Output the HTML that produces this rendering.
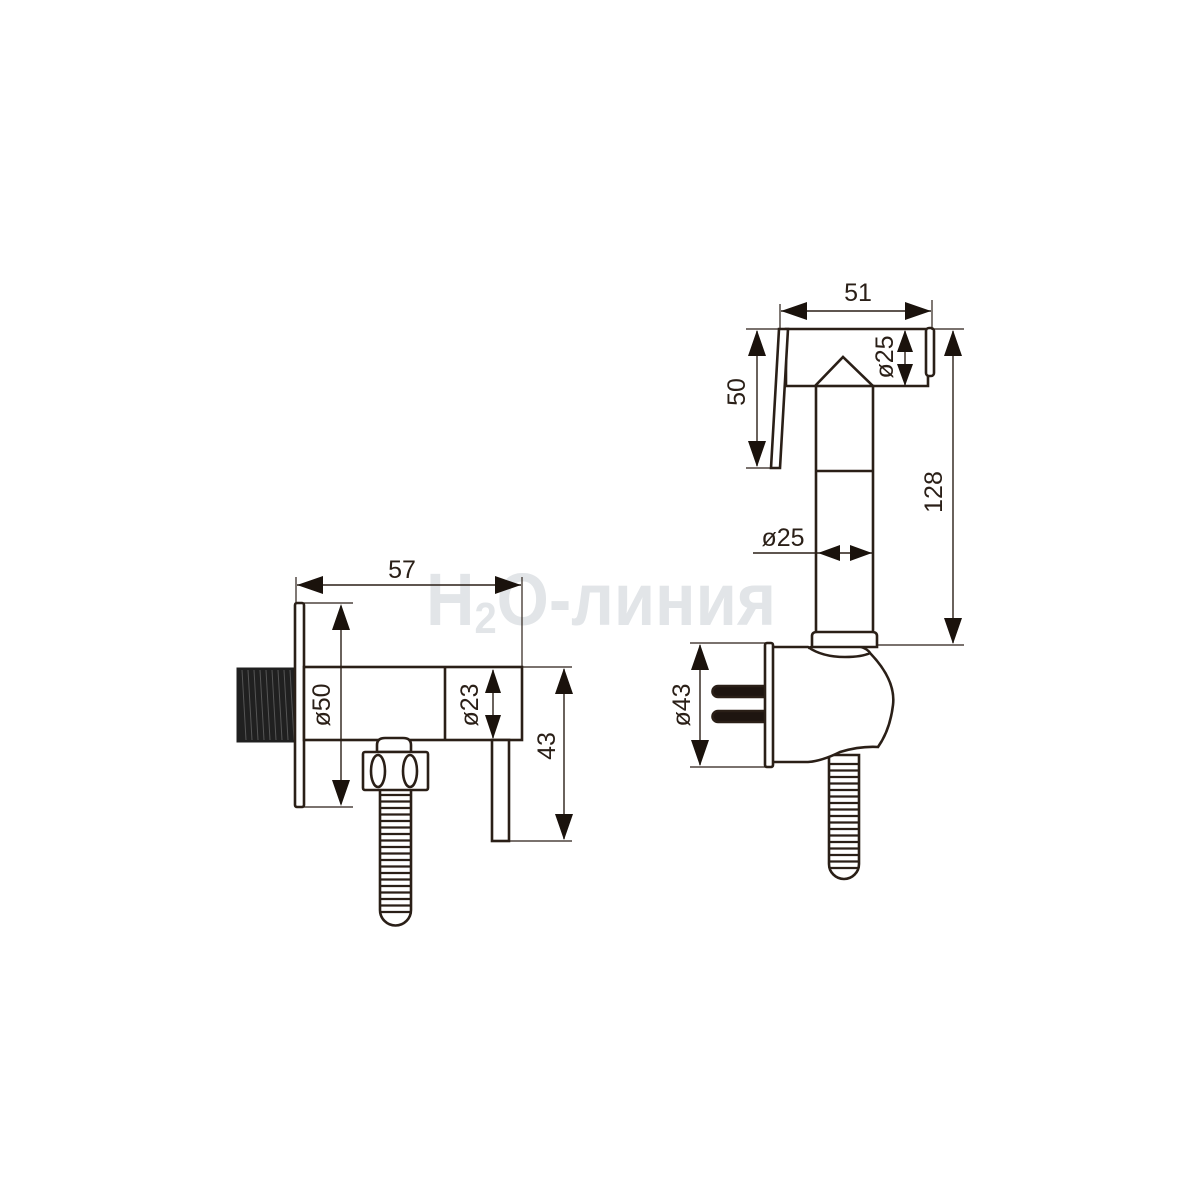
<!DOCTYPE html>
<html><head><meta charset="utf-8"><style>
html,body{margin:0;padding:0;background:#fff}
svg{display:block}
text{font-family:"Liberation Sans",sans-serif;fill:#2a1f17}
</style></head><body>
<svg width="1200" height="1200" viewBox="0 0 1200 1200" xmlns="http://www.w3.org/2000/svg">
<!-- watermark -->
<text x="426" y="625" font-size="74" font-weight="bold" style="fill:#e2e5e8" textLength="350" lengthAdjust="spacingAndGlyphs">H<tspan font-size="44" dy="8">2</tspan><tspan dy="-8">O-линия</tspan></text>

<g stroke="#2a1f17" fill="#fff" stroke-width="2.6">
<!-- thread -->
<rect x="237" y="668" width="59" height="74" fill="#202020" stroke="#202020" stroke-width="1"/>
<g stroke="#555" stroke-width="1">
<path d="M242,670 l4,70 M248,670 l4,70 M254,670 l4,70 M260,670 l4,70 M266,670 l4,70 M272,670 l4,70 M278,670 l4,70 M284,670 l4,70 M290,670 l4,70"/>
</g>
<rect x="295" y="603" width="9" height="204" rx="2"/>
<rect x="304" y="667" width="218" height="73"/>
<line x1="445" y1="667" x2="445" y2="740"/>
<rect x="492" y="740" width="17" height="101"/>
<path d="M380,789 V910 a15.5,15.5 0 0 0 31,0 V789 z"/>
<g stroke-width="2.2">
<path d="M380,795 h31 M380,801.5 h31 M380,808 h31 M380,814.5 h31 M380,821 h31 M380,827.5 h31 M380,834 h31 M380,840.5 h31 M380,847 h31 M380,853.5 h31 M380,860 h31 M380,866.5 h31 M380,873 h31 M380,879.5 h31 M380,886 h31 M380,892.5 h31 M380,899 h31 M380,905.5 h31 M381,912 h29"/>
</g>
<path d="M377,752 V745 q0,-7 8,-7 h18 q8,0 8,7 V752 z"/>
<rect x="363" y="752" width="65" height="38" rx="2"/>
<ellipse cx="378" cy="771" rx="7" ry="16"/>
<ellipse cx="410" cy="771" rx="7" ry="16"/>

<!-- RIGHT shapes -->
<path d="M786,329 H928 V386 H873 L843,357 L815,386 H786 z"/>
<rect x="926" y="328" width="8" height="48" rx="3"/>
<path d="M779,329 L788,329 L780,468 L771,468 z"/>
<rect x="816" y="386" width="57" height="248"/>
<line x1="816" y1="471" x2="873" y2="471"/>
<path d="M766,686 H718 a5.5,5.5 0 0 0 0,11 H766 z" fill="#1e1510"/>
<path d="M766,711 H718 a5.5,5.5 0 0 0 0,11 H766 z" fill="#1e1510"/>
<path d="M829,755 V864 a15,15 0 0 0 30,0 V755 z"/>
<g stroke-width="2.2">
<path d="M829,764 h30 M829,770.5 h30 M829,777 h30 M829,783.5 h30 M829,790 h30 M829,796.5 h30 M829,803 h30 M829,809.5 h30 M829,816 h30 M829,822.5 h30 M829,829 h30 M829,835.5 h30 M829,842 h30 M829,848.5 h30 M829,855 h30 M829,861.5 h30 M830,868 h28"/>
</g>
<path d="M772,647 H808 Q822,657 845,657 Q862,657 870,653 Q896,680 893,705 Q890,730 878,747 Q860,746 840,752 Q822,761 808,762 H772 z"/>
<path d="M808,648 Q820,644 845,645 Q865,645 870,653"/>
<path d="M812,647 V636 q0,-4 5,-4 h55 q5,0 5,4 V647 z"/>
<rect x="765" y="643" width="8" height="124" rx="2"/>
</g>

<!-- dimensions (on top) -->
<g stroke="#2a1f17" fill="none" stroke-width="1.2">
<line x1="296" y1="577" x2="296" y2="603"/>
<line x1="522" y1="577" x2="522" y2="667"/>
<line x1="297" y1="585" x2="521" y2="585" stroke-width="1.4"/>
<line x1="304" y1="603" x2="353" y2="603"/>
<line x1="304" y1="807" x2="353" y2="807"/>
<line x1="341" y1="606" x2="341" y2="804" stroke-width="1.4"/>
<line x1="493" y1="670" x2="493" y2="738" stroke-width="1.4"/>
<line x1="522" y1="667" x2="572" y2="667"/>
<line x1="509" y1="841" x2="572" y2="841"/>
<line x1="564" y1="669" x2="564" y2="839" stroke-width="1.4"/>

<line x1="780" y1="304" x2="780" y2="330"/>
<line x1="932" y1="300" x2="932" y2="330"/>
<line x1="781" y1="311" x2="931" y2="311" stroke-width="1.4"/>
<line x1="746" y1="329" x2="787" y2="329"/>
<line x1="746" y1="468" x2="775" y2="468"/>
<line x1="757" y1="331" x2="757" y2="466" stroke-width="1.4"/>
<line x1="905" y1="331" x2="905" y2="385" stroke-width="1.4"/>
<line x1="933" y1="329" x2="964" y2="329"/>
<line x1="877" y1="645" x2="964" y2="645"/>
<line x1="953" y1="331" x2="953" y2="643" stroke-width="1.4"/>
<line x1="753" y1="553" x2="872" y2="553" stroke-width="1.4"/>
<line x1="690" y1="643" x2="766" y2="643"/>
<line x1="690" y1="767" x2="766" y2="767"/>
<line x1="700" y1="645" x2="700" y2="765" stroke-width="1.4"/>
</g>
<g fill="#1a120c">
<path d="M297,585 l26,-9 v18 z M521,585 l-26,-9 v18 z"/>
<path d="M341,604 l-9,26 h18 z M341,806 l-9,-26 h18 z"/>
<path d="M493,669 l-8,24 h16 z M493,739 l-8,-24 h16 z"/>
<path d="M564,668 l-9,26 h18 z M564,840 l-9,-26 h18 z"/>
<path d="M781,311 l26,-9 v18 z M931,311 l-26,-9 v18 z"/>
<path d="M757,330 l-9,26 h18 z M757,467 l-9,-26 h18 z"/>
<path d="M905,330 l-8,22 h16 z M905,386 l-8,-22 h16 z"/>
<path d="M953,330 l-9,26 h18 z M953,644 l-9,-26 h18 z"/>
<path d="M818,553 l22,-8 v16 z M872,553 l-22,-8 v16 z"/>
<path d="M700,644 l-9,26 h18 z M700,766 l-9,-26 h18 z"/>
</g>

<text x="402" y="578" font-size="25" text-anchor="middle">57</text>
<text transform="translate(330,705) rotate(-90)" font-size="25" text-anchor="middle">ø50</text>
<text transform="translate(478,705) rotate(-90)" font-size="25" text-anchor="middle">ø23</text>
<text transform="translate(555,746) rotate(-90)" font-size="25" text-anchor="middle">43</text>
<text x="858" y="301" font-size="25" text-anchor="middle">51</text>
<text transform="translate(745,392) rotate(-90)" font-size="25" text-anchor="middle">50</text>
<text transform="translate(893,357) rotate(-90)" font-size="25" text-anchor="middle">ø25</text>
<text transform="translate(942,492) rotate(-90)" font-size="25" text-anchor="middle">128</text>
<text x="783" y="546" font-size="25" text-anchor="middle">ø25</text>
<text transform="translate(690,705) rotate(-90)" font-size="25" text-anchor="middle">ø43</text>
</svg>
</body></html>
